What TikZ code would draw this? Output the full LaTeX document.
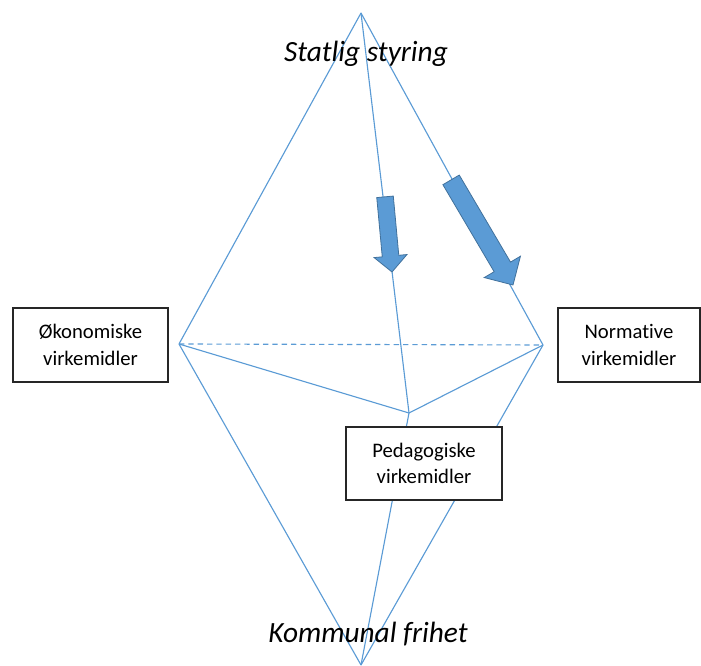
\documentclass[tikz,border=0pt]{standalone}
\usepackage{fontspec}
\setmainfont[Ligatures=NoCommon]{Carlito}
\definecolor{lineblue}{HTML}{5B9BD5}
\definecolor{arrowfill}{HTML}{5B9BD5}
\definecolor{arrowedge}{HTML}{41719C}
\tikzset{
  edge/.style={draw=lineblue, line width=0.85pt},
  dashededge/.style={edge, dash pattern=on 4pt off 3pt},
  box/.style={draw=black!85, line width=1pt, fill=white, minimum width=#1, align=center, inner sep=0pt, font=\fontsize{15.5}{20}\selectfont},
  title/.style={font=\fontsize{22}{26}\selectfont\itshape, anchor=base, inner sep=0pt},
  blockarrow/.style={fill=arrowfill, draw=arrowedge, line width=0.6pt, line join=miter}
}
\begin{document}
\begin{tikzpicture}[x=0.75pt,y=-0.75pt]
\useasboundingbox (0,0) rectangle (701,666);
\coordinate (T) at (361,13);
\coordinate (B) at (361,665);
\coordinate (L) at (179,344);
\coordinate (R) at (543,345);
\coordinate (M) at (409,413);
% lines
\draw[edge] (T) -- (L);
\draw[edge] (T) -- (R);
\draw[edge] (T) -- (M);
\draw[dashededge] (L) -- (R);
\draw[edge] (L) -- (M);
\draw[edge] (R) -- (M);
\draw[edge] (B) -- (L);
\draw[edge] (B) -- (R);
\draw[edge] (B) -- (M);
% boxes
\node[box=155*0.75pt, minimum height=74*0.75pt] (oko) at (90.5,345) {Økonomiske\\virkemidler};
\node[box=142*0.75pt, minimum height=74*0.75pt] (nor) at (629,345) {Normative\\virkemidler};
\node[box=156*0.75pt, minimum height=73*0.75pt] (ped) at (424,463.5) {Pedagogiske\\virkemidler};
% block arrows
\begin{scope}[shift={(392,272)}, rotate=-84.7]
\draw[blockarrow] (0,0) -- (-16,16.5) -- (-16,8.3) -- (-75.5,8.3) -- (-75.5,-8.3) -- (-16,-8.3) -- (-16,-16.5) -- cycle;
\end{scope}
\begin{scope}[shift={(513,285)}, rotate=-59.5]
\draw[blockarrow] (0,0) -- (-21,21) -- (-21,9.5) -- (-122,9.5) -- (-122,-9.5) -- (-21,-9.5) -- (-21,-21) -- cycle;
\end{scope}
% titles
\node[title] (top) at (366,62) {Statlig styring};
\node[title] (bot) at (368,643) {Kommunal frihet};
\end{tikzpicture}
\end{document}
